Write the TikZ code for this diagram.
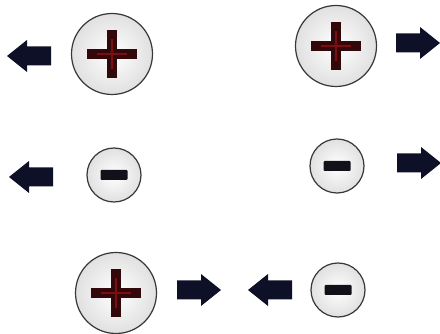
\documentclass[tikz,border=0pt]{standalone}
\usetikzlibrary{calc}
\definecolor{arrowcol}{RGB}{14,16,40}
\definecolor{plusdark}{RGB}{50,8,10}
\definecolor{plusred}{RGB}{125,14,18}
\definecolor{minuscol}{RGB}{18,16,24}
\tikzset{
  charge/.style={circle, inner sep=0pt, draw=black!78, line width=1.2pt, inner color=white, outer color=black!12},
  bigcharge/.style={charge, minimum size=81pt},
  smallcharge/.style={charge, minimum size=54pt},
  push/.pic={\fill[arrowcol] (-22,-9.5) -- (2,-9.5) -- (2,-16) -- (22,0) -- (2,16) -- (2,9.5) -- (-22,9.5) -- cycle;},
}
\newcommand\plusmark[1]{%
  \fill[plusdark] ($(#1)+(-25,-4.8)$) rectangle ($(#1)+(25,4.8)$);
  \fill[plusdark] ($(#1)+(-5,-24)$) rectangle ($(#1)+(5,24)$);
  \fill[plusred] ($(#1)+(-15,-1.3)$) rectangle ($(#1)+(15,1.3)$);
  \fill[plusred] ($(#1)+(-1.3,-15)$) rectangle ($(#1)+(1.3,15)$);}
\newcommand\minusmark[1]{%
  \fill[minuscol, rounded corners=1pt] ($(#1)+(-13.5,-5)$) rectangle ($(#1)+(13.5,5)$);}
\begin{document}
\begin{tikzpicture}[x=1pt,y=-1pt]
\useasboundingbox (0,0) rectangle (440,334);
\fill[white] (0,0) rectangle (440,334);
% row 1
\node[bigcharge] (p1) at (112,54) {};
\plusmark{p1}
\pic[rotate=180] (a1) at (29,56) {push};
\node[bigcharge] (p2) at (336,46) {};
\plusmark{p2}
\pic (a2) at (418,43) {push};
% row 2
\node[smallcharge] (n1) at (114,175) {};
\minusmark{n1}
\pic[rotate=180] (a3) at (31,177) {push};
\node[smallcharge] (n2) at (337,166) {};
\minusmark{n2}
\pic (a4) at (419,163) {push};
% row 3
\node[bigcharge] (p3) at (116,293) {};
\plusmark{p3}
\pic (a5) at (199,290) {push};
\pic[rotate=180] (a6) at (270,290) {push};
\node[smallcharge] (n3) at (338,290) {};
\minusmark{n3}
\end{tikzpicture}
\end{document}
